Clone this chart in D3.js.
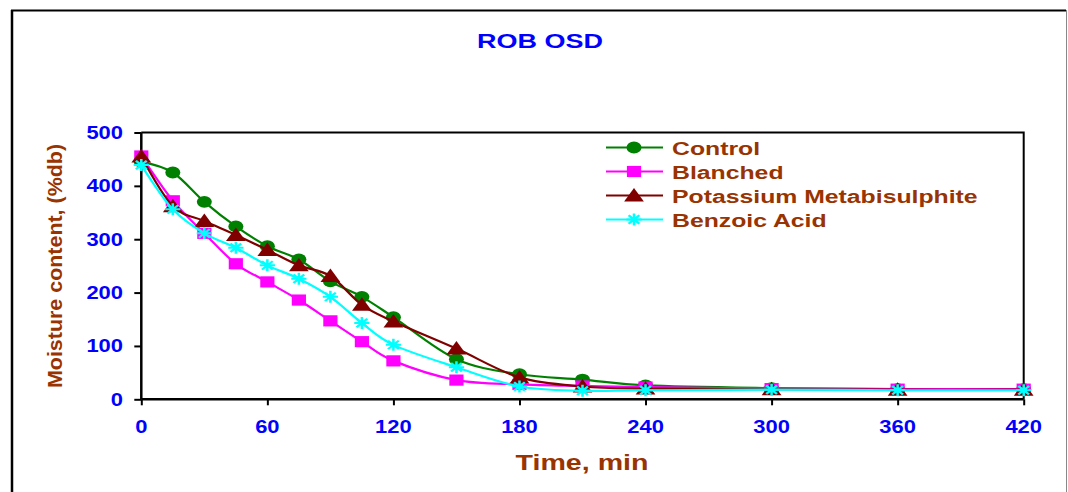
<!DOCTYPE html>
<html>
<head>
<meta charset="utf-8">
<script src="https://cdn.jsdelivr.net/npm/d3@7/dist/d3.min.js"></script>
<style>
  html, body { margin: 0; padding: 0; background: #fff; }
  svg { display: block; font-family: "Liberation Sans", Arial, sans-serif; font-weight: bold; }
</style>
</head>
<body>
<svg id="chart" width="1068" height="492"></svg>
<script>
// Drying time (min) and moisture content (% dry basis) for each pretreatment
const timeMin = [0, 15, 30, 45, 60, 75, 90, 105, 120, 150, 180, 210, 240, 300, 360, 420];
const control = [445, 425, 370, 324, 287, 262, 221, 192, 154, 75, 47, 37, 26, 21, 19, 19];
const blanched = [456, 372, 311, 254, 220, 186, 147, 108, 72, 36, 28, 25, 23, 20, 19, 19];
const potassiumMetabisulphite = [455, 362, 334, 308, 280, 251, 231, 177, 146, 95, 41, 24, 20, 19, 18, 18];
const benzoicAcid = [439, 356, 311, 284, 251, 226, 192, 143, 102, 60, 24, 16, 17, 18, 17, 17];

const seriesNames = ["Control", "Blanched", "Potassium Metabisulphite", "Benzoic Acid"];
const xTicks = [0, 60, 120, 180, 240, 300, 360, 420];
const yTicks = [0, 100, 200, 300, 400, 500];

const chartTitle = "ROB OSD";
const xTitle = "Time, min";
const yTitle = "Moisture content, (%db)";

const seriesValues = [control, blanched, potassiumMetabisulphite, benzoicAcid];
const styles = [
  { color: "#008000", marker: d3.symbolCircle, size: 110 },
  { color: "#FF00FF", marker: d3.symbolSquare, size: 125 },
  { color: "#800000", marker: d3.symbolTriangle, size: 105 },
  { color: "#00FFFF", marker: "star", size: 11 }
];

const svg = d3.select("#chart");
const stretch = 1.27; // the figure is drawn horizontally widened

const plot = { left: 141.3, right: 1023.7, top: 132.5, bottom: 399.3 };
const x = d3.scaleLinear().domain([0, 420]).range([plot.left, plot.right]);
const y = d3.scaleLinear().domain([0, 500]).range([plot.bottom, plot.top]);

// outer figure frame
svg.append("line").attr("x1", 12).attr("x2", 12).attr("y1", 10).attr("y2", 492)
  .attr("stroke", "#000").attr("stroke-width", 2.5);
svg.append("line").attr("x1", 11).attr("x2", 1066).attr("y1", 10.5).attr("y2", 10.5)
  .attr("stroke", "#000").attr("stroke-width", 2);
svg.append("line").attr("x1", 1066.5).attr("x2", 1066.5).attr("y1", 10).attr("y2", 492)
  .attr("stroke", "#888").attr("stroke-width", 1);

function wideText(g, str, px, py, size, fill, anchor, sx) {
  return g.append("text")
    .attr("transform", `translate(${px},${py}) scale(${sx},1)`)
    .attr("text-anchor", anchor)
    .attr("font-size", size)
    .attr("fill", fill)
    .text(str);
}

// title
wideText(svg, chartTitle, 540, 48, 20, "#0000FF", "middle", 1.35);

// plot frame (top and right)
svg.append("path")
  .attr("d", `M${plot.left},${plot.top}H${plot.right}V${plot.bottom}`)
  .attr("fill", "none").attr("stroke", "#000").attr("stroke-width", 2);

// axes
const xAxis = svg.append("g").attr("transform", `translate(0,${plot.bottom})`)
  .call(d3.axisBottom(x).tickValues(xTicks).tickSize(6).tickFormat(""));
const yAxis = svg.append("g").attr("transform", `translate(${plot.left},0)`)
  .call(d3.axisLeft(y).tickValues(yTicks).tickSize(7).tickFormat(""));
[xAxis, yAxis].forEach(a => {
  a.select(".domain").attr("stroke", "#000").attr("stroke-width", 2.5)
    .attr("d", a === xAxis ? `M${plot.left},0H${plot.right}` : `M0,${plot.bottom}V${plot.top}`);
  a.selectAll(".tick line").attr("stroke", "#000").attr("stroke-width", 2);
});

xTicks.forEach(t => wideText(svg, String(t), x(t), 432.5, 18, "#0000FF", "middle", 1.22));
yTicks.forEach(t => wideText(svg, String(t), 123, y(t) + 6.5, 18, "#0000FF", "end", 1.22));

// axis titles
wideText(svg, xTitle, 582, 470, 22, "#993300", "middle", 1.3);
svg.append("text")
  .attr("transform", `translate(62,266) rotate(-90) scale(1.1,1)`)
  .attr("text-anchor", "middle").attr("font-size", 19.5).attr("fill", "#993300")
  .text(yTitle);

// marker drawing
function starPath(r) {
  let d = "";
  for (let k = 0; k < 4; k++) {
    const a = k * Math.PI / 4;
    const dx = r * Math.cos(a), dy = r * Math.sin(a);
    d += `M${-dx},${-dy}L${dx},${dy}`;
  }
  return d;
}
function drawMarker(g, st, cx, cy) {
  const tr = `translate(${cx},${cy}) scale(${stretch},1)`;
  if (st.marker === "star") {
    g.append("path").attr("d", starPath(st.size / 2 + 0.5)).attr("transform", tr)
      .attr("stroke", st.color).attr("stroke-width", 2).attr("fill", "none");
  } else {
    g.append("path").attr("d", d3.symbol().type(st.marker).size(st.size)())
      .attr("transform", tr + (st.marker === d3.symbolTriangle ? " translate(0,1.5)" : ""))
      .attr("fill", st.color);
  }
}

const line = d3.line().curve(d3.curveCardinal.tension(0))
  .x((d, i) => x(timeMin[i])).y(d => y(d));

const dataLayer = svg.append("g");
seriesValues.forEach((vals, s) => {
  const st = styles[s];
  const g = dataLayer.append("g");
  g.append("path").attr("d", line(vals)).attr("fill", "none")
    .attr("stroke", st.color).attr("stroke-width", 2.2);
  vals.forEach((v, i) => drawMarker(g, st, x(timeMin[i]), y(v)));
});

// legend
const legend = svg.append("g");
seriesNames.forEach((name, s) => {
  const st = styles[s];
  const cy = 147.5 + s * 24;
  legend.append("line").attr("x1", 606).attr("x2", 663).attr("y1", cy).attr("y2", cy)
    .attr("stroke", st.color).attr("stroke-width", 2.2);
  drawMarker(legend, st, 634, cy);
  wideText(legend, name, 672, cy + 7, 18.5, "#993300", "start", 1.34);
});
</script>
</body>
</html>
